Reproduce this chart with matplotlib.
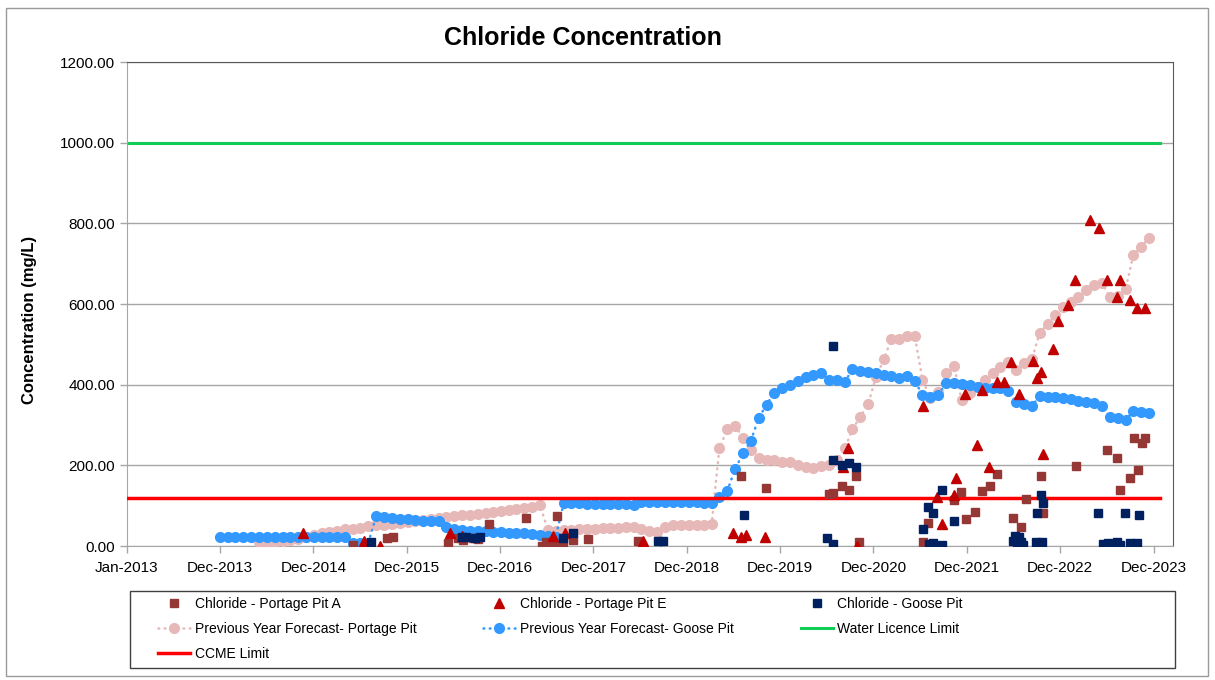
import numpy as np
import pandas as pd
import matplotlib
matplotlib.use('Agg')
import matplotlib.pyplot as plt
from matplotlib.patches import Rectangle
from matplotlib.ticker import FuncFormatter

plt.rcParams['font.family'] = ['Liberation Sans', 'DejaVu Sans']

# ---- sampled chloride results (mg/L) ----
pitA_dates = ['2015-06-02', '2015-08-05', '2015-10-13', '2015-11-06', '2016-06-08', '2016-07-17',
              '2016-08-05', '2016-09-13', '2016-10-02', '2016-11-14', '2017-04-08', '2017-06-07',
              '2017-06-24', '2017-07-16', '2017-08-05', '2017-08-11', '2017-08-30', '2017-10-06',
              '2017-12-06', '2018-06-18', '2019-07-23', '2019-10-30', '2020-07-02', '2020-07-16',
              '2020-08-20', '2020-09-19', '2020-10-14', '2020-10-28', '2021-07-05', '2021-07-22',
              '2021-11-01', '2021-11-28', '2021-12-16', '2022-01-20', '2022-02-17', '2022-03-22',
              '2022-04-19', '2022-06-20', '2022-07-19', '2022-08-09', '2022-10-06', '2022-10-15',
              '2023-02-19', '2023-06-22', '2023-07-31', '2023-08-12', '2023-09-19', '2023-10-18',
              '2023-10-05', '2023-11-03', '2023-11-14']
pitA_vals = [2, 0, 19, 23, 8, 19, 15, 19, 17, 55, 69, 0, 11, 11, 74, 0, 11, 15, 17, 13,
             174, 143, 129, 132, 149, 140, 174, 11, 11, 58, 114, 135, 66, 84, 137, 149, 178,
             69, 48, 117, 174, 83, 198, 238, 218, 138, 168, 188, 267, 256, 267]

pitE_dates = ['2014-11-21', '2015-07-16', '2015-09-16', '2016-06-15', '2016-07-30', '2017-07-21',
              '2017-09-06', '2018-07-06', '2019-06-22', '2019-07-23', '2019-08-13', '2019-10-26',
              '2020-08-24', '2020-09-15', '2020-10-18', '2021-07-03', '2021-08-01', '2021-08-26',
              '2021-09-14', '2021-10-31', '2021-11-09', '2021-12-14', '2022-01-30', '2022-02-17',
              '2022-03-19', '2022-04-17', '2022-05-16', '2022-06-12', '2022-07-13', '2022-09-04',
              '2022-09-19', '2022-10-08', '2022-10-13', '2022-11-22', '2022-12-12', '2023-01-21',
              '2023-02-16', '2023-04-16', '2023-05-22', '2023-06-20', '2023-07-30', '2023-08-11',
              '2023-09-17', '2023-10-15', '2023-11-16']
pitE_vals = [32, 13, 0, 31, 25, 26, 31, 13, 33, 23, 27, 22, 197, 242, 0, 347, 0, 122, 55,
             126, 168, 377, 250, 387, 197, 407, 407, 457, 378, 458, 417, 431, 229, 488, 557,
             598, 659, 809, 789, 659, 618, 659, 609, 589, 589]

goose_dates = ['2015-08-10', '2016-07-30', '2016-08-18', '2016-09-20', '2016-10-10', '2017-08-31',
               '2017-10-09', '2018-09-05', '2018-09-24', '2019-08-05', '2020-06-23', '2020-07-16',
               '2020-07-19', '2020-07-18', '2020-08-20', '2020-09-19', '2020-10-13', '2021-07-05',
               '2021-07-24', '2021-08-10', '2021-07-26', '2021-08-12', '2021-09-14', '2021-09-14',
               '2021-11-01', '2022-06-20', '2022-06-28', '2022-07-05', '2022-07-10', '2022-07-12',
               '2022-07-20', '2022-07-27', '2022-09-17', '2022-09-20', '2022-10-05', '2022-10-15',
               '2022-10-09', '2023-05-18', '2023-06-06', '2023-06-24', '2023-07-29', '2023-08-12',
               '2023-08-31', '2023-09-20', '2023-10-16', '2023-10-25']
goose_vals = [11, 23, 22, 19, 22, 19, 32, 13, 13, 77, 19, 496, 5, 214, 201, 207, 195,
              41, 97, 83, 5, 7, 2, 139, 63, 12, 25, 5, 15, 22, 10, 3, 11, 83, 126, 107, 11,
              81, 5, 8, 11, 2, 81, 8, 8, 77]

# ---- monthly forecasts from previous year ----
portage_fc_start = '2014-06-01'
portage_fc_vals = [10, 10, 11, 12, 14, 18, 22,
                   27, 31, 35, 38, 41, 43, 45, 49, 51, 53, 55, 57, 59,
                   62, 65, 68, 70, 72, 74, 76, 78, 80, 82, 84, 86, 89, 91, 94, 97, 101,
                   40, 38, 39, 40, 41, 42, 43, 44, 45, 45, 46, 46, 43, 36, 35, 48, 51, 52, 52, 53, 53, 54,
                   242, 289, 298, 269, 238, 219, 213, 213, 209, 208, 202, 197, 194, 198, 201, 212,
                   242, 289, 321, 351, 420, 463, 512, 512, 521, 521, 412,
                   366, 383, 428, 446, 362, 379, 395, 412, 428, 445, 457, 436, 453, 463, 529, 550,
                   573, 592, 606, 618, 635, 647, 653, 617, 621, 636, 721, 742, 764]

goose_fc_start = '2014-01-01'
goose_fc_vals = [22] * 17 + [8, 7, 8,
                 74, 71, 69, 67, 66, 64, 63, 63, 63,
                 48, 42, 40, 38, 37, 36, 35, 34, 33, 32, 31, 30, 28, 25, 23,
                 106, 107, 106, 105, 105, 104, 104, 103, 103, 102,
                 109, 110, 110, 110, 109, 109, 108, 108, 107, 107,
                 122, 137, 190, 230, 261, 317, 350, 380, 391, 399, 410, 418, 425, 430, 412, 412,
                 407, 438, 435, 431, 428,
                 425, 421, 416, 421, 410, 374, 369, 374, 405, 403, 401, 399, 395, 392, 391, 391,
                 384, 356, 352, 347,
                 372, 370, 369, 366, 364, 360, 358, 355, 348, 321, 317, 312, 335, 331, 329]

# ---- limits ----
limit_dates = ['2013-01-01', '2024-01-15']
water_licence_limit = [1000, 1000]
ccme_limit = [120, 120]

# x-axis ticks every 364 days from Jan-2013
tick_dates = [pd.Timestamp('2013-01-01') + pd.Timedelta(days=364 * k) for k in range(12)]

W, H = 1215, 680
fig = plt.figure(figsize=(W / 100, H / 100), dpi=100)
ax = fig.add_axes([126.7 / W, 1 - 546 / H, (1173 - 126.7) / W, (546 - 62) / H])

dotted = (0, (0.3, 2.2))
portage_fc_x = pd.date_range(portage_fc_start, periods=len(portage_fc_vals), freq='MS')
goose_fc_x = pd.date_range(goose_fc_start, periods=len(goose_fc_vals), freq='MS')

h_pfc, = ax.plot(portage_fc_x, portage_fc_vals, color='#E6B9B8', ls=dotted, lw=1.8,
                 dash_capstyle='round', marker='o', ms=7, mec='#E6B9B8', zorder=3,
                 label='Previous Year Forecast- Portage Pit')
h_gfc, = ax.plot(goose_fc_x, goose_fc_vals, color='#3399FF', ls=dotted, lw=1.8,
                 dash_capstyle='round', marker='o', ms=7, mec='#3399FF', zorder=4,
                 label='Previous Year Forecast- Goose Pit')

h_wl, = ax.plot(pd.to_datetime(limit_dates), water_licence_limit, color='#11CC55', lw=2.2,
                zorder=2, label='Water Licence Limit')
h_cc, = ax.plot(pd.to_datetime(limit_dates), ccme_limit, color='#FF0000', lw=2.5,
                zorder=5, label='CCME Limit')

h_a, = ax.plot(pd.to_datetime(pitA_dates), pitA_vals, ls='none', marker='s', ms=5.4,
               color='#953735', zorder=6, label='Chloride - Portage Pit A')
h_e, = ax.plot(pd.to_datetime(pitE_dates), pitE_vals, ls='none', marker='^', ms=7,
               color='#C00000', zorder=7, label='Chloride - Portage Pit E')
h_g, = ax.plot(pd.to_datetime(goose_dates), goose_vals, ls='none', marker='s', ms=6,
               color='#002060', zorder=8, label='Chloride - Goose Pit')

# axes formatting
ax.set_xlim(pd.Timestamp('2013-01-01'), pd.Timestamp('2024-03-04'))
ax.set_ylim(0, 1200)
ax.set_yticks(np.arange(0, 1201, 200))
ax.yaxis.set_major_formatter(FuncFormatter(lambda v, _: '{:.2f}'.format(v)))
ax.set_xticks(tick_dates)
ax.set_xticklabels([d.strftime('%b-%Y') for d in tick_dates])
ax.tick_params(axis='both', labelsize=11, color='#A6A6A6', length=5, width=1, direction='out')
ax.tick_params(axis='x', pad=6)
ax.grid(axis='y', color='#A6A6A6', lw=1, zorder=1)
ax.set_axisbelow(True)
for s in ['left', 'bottom']:
    ax.spines[s].set_color('#A6A6A6')
for s in ['top', 'right']:
    ax.spines[s].set_color('#595959')

# titles
fig.text(583 / W, 1 - 38 / H, 'Chloride Concentration', ha='center', va='center',
         fontsize=18, fontweight='bold')
fig.text(30 / W, 1 - 320 / H, 'Concentration (mg/L)', ha='center', va='center',
         rotation=90, fontsize=12, fontweight='bold')

# legend (Excel-like row order, framed separately)
handles = [h_a, h_pfc, h_cc, h_e, h_gfc, h_g, h_wl]
leg = fig.legend(handles=handles, labels=[h.get_label() for h in handles], ncol=3,
                 loc='upper left', bbox_to_anchor=(158 / W, 1 - 597 / H), frameon=False,
                 fontsize=10, handlelength=2.3, handletextpad=0.35, columnspacing=4.8,
                 labelspacing=0.8, borderpad=0, borderaxespad=0)
fig.add_artist(Rectangle((130 / W, 1 - 668 / H), (1175 - 130) / W, (668 - 591) / H,
                         transform=fig.transFigure, fill=False, edgecolor='#404040', lw=1))

# chart border
fig.add_artist(Rectangle((6 / W, 1 - 676 / H), (1208 - 6) / W, (676 - 8) / H,
                         transform=fig.transFigure, fill=False, edgecolor='#9A9A9A', lw=1))

fig.savefig('out.png', dpi=100)
